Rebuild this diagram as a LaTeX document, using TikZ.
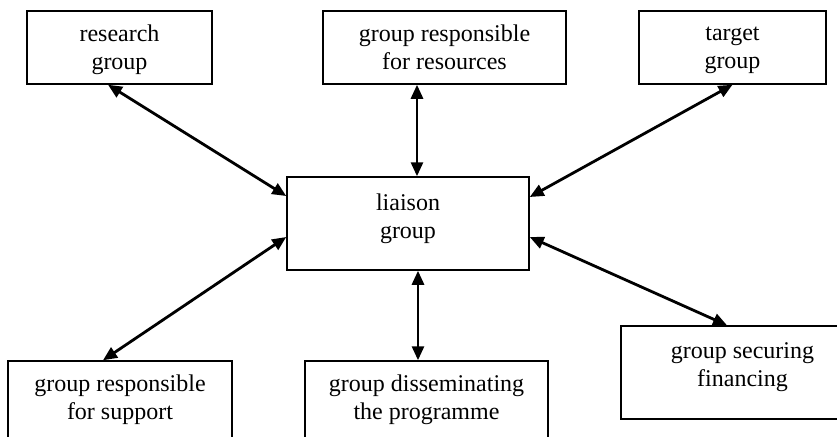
\documentclass[tikz,border=0pt]{standalone}
\usepackage{fontspec}
\setmainfont{Liberation Serif}
\usetikzlibrary{positioning,arrows.meta}
\tikzset{
  grp/.style={draw, line width=0.75pt, inner sep=0pt, minimum height=#1},
  grp/.default=36.5pt,
  grptext/.style={anchor=north, align=center, inner sep=0pt, yshift=-7pt, font=\fontsize{12}{14}\selectfont},
  link/.style={line width=1.4pt, {Triangle[length=7pt,width=6pt]}-{Triangle[length=7pt,width=6pt]}}
}
\begin{document}
\begin{tikzpicture}[x=0.5pt, y=-0.5pt]
\useasboundingbox (0,0) rectangle (837,436);
\clip (0,0) rectangle (837,436);
% top row
\node[grp, minimum width=92.5pt, label={[grptext]north:{research\\group}}] (rg) at (119.5,47.5) {};
\node[grp, minimum width=121.5pt, label={[grptext]north:{group responsible\\for resources}}] (rs) at (444.5,47.5) {};
\node[grp, minimum width=93.5pt, label={[grptext, yshift=-1pt]north:{target\\group}}] (tg) at (732.5,47.5) {};
% centre
\node[grp=46.5pt, minimum width=121pt, label={[grptext, yshift=-1.5pt]north:{liaison\\group}}] (lg) at (408,223.5) {};
% bottom row
\node[grp=46.5pt, minimum width=112pt, label={[grptext]north:{group responsible\\for support}}] (sp) at (120,407.5) {};
\node[grp=46.5pt, minimum width=121.5pt, label={[grptext]north:{group disseminating\\the programme}}] (ds) at (426.5,407.5) {};
\node[grp=46.5pt, minimum width=121.5pt, label={[grptext, yshift=-1.5pt]north:{group securing\\financing}}] (fn) at (742.5,372.5) {};
% connectors
\draw[link] ([xshift=-5.75pt]rg.south) -- ([yshift=13.75pt]lg.west);
\draw[link] ([xshift=4.5pt]lg.north |- rs.south) -- ([xshift=4.5pt]lg.north);
\draw[link] (tg.south) -- ([yshift=13.25pt]lg.east);
\draw[link] ([xshift=-8.5pt]sp.north) -- ([yshift=-6.75pt]lg.west);
\draw[link] ([xshift=5pt]lg.south) -- ([xshift=5pt]lg.south |- ds.north);
\draw[link] ([yshift=-6.75pt]lg.east) -- ([xshift=-7.75pt]fn.north);
\end{tikzpicture}
\end{document}
